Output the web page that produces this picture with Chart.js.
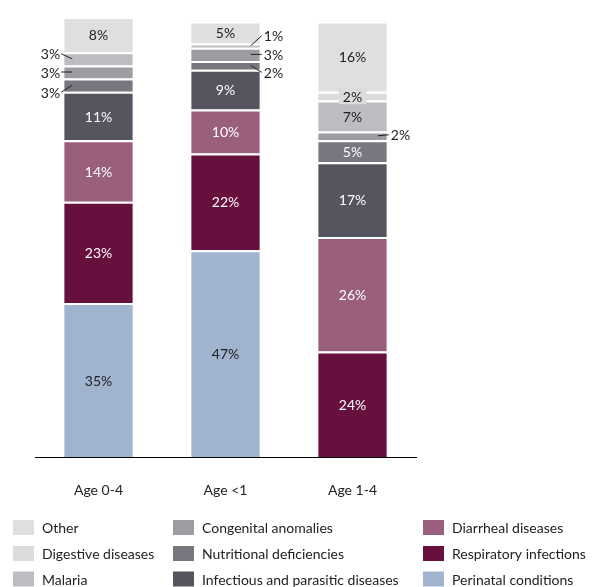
<!DOCTYPE html>
<html>
<head>
<meta charset="utf-8">
<script src="https://cdn.jsdelivr.net/npm/chart.js@4/dist/chart.umd.min.js"></script>
<style>
  html, body { margin: 0; padding: 0; background: #fff; }
  #wrap { width: 595px; height: 587px; position: relative; }
</style>
</head>
<body>
<div id="wrap"><canvas id="c" width="595" height="587"></canvas></div>
<script>
// Age groups along the x axis
const categories = ['Age 0-4', 'Age <1', 'Age 1-4'];

// Share of deaths by cause (%), stacked from the bottom up
const perinatal   = [35, 47, 0];
const respiratory = [23, 22, 24];
const diarrheal   = [14, 10, 26];
const infectious  = [11, 9, 17];
const nutritional = [3, 2, 5];
const congenital  = [3, 3, 2];
const malaria     = [3, 1, 7];
const digestive   = [0, 0, 2];
const other       = [8, 5, 16];

const FONT = 'Lato, "Open Sans", sans-serif';

// series: name, values, fill colour, in-bar label colour
const series = [
  { name: 'Perinatal conditions',             data: perinatal,   color: '#a0b4cf', text: '#222' },
  { name: 'Respiratory infections',           data: respiratory, color: '#67103e', text: '#fff' },
  { name: 'Diarrheal diseases',               data: diarrheal,   color: '#9b5f7e', text: '#fff' },
  { name: 'Infectious and parasitic diseases',data: infectious,  color: '#55555f', text: '#fff' },
  { name: 'Nutritional deficiencies',         data: nutritional, color: '#77777f', text: '#fff' },
  { name: 'Congenital anomalies',             data: congenital,  color: '#9c9ca1', text: '#fff' },
  { name: 'Malaria',                          data: malaria,     color: '#bdbdc1', text: '#222' },
  { name: 'Digestive diseases',               data: digestive,   color: '#dcdcde', text: '#222' },
  { name: 'Other',                            data: other,       color: '#dfdfe1', text: '#222' }
];

// legend layout: column-major, three rows
const legendOrder = [
  ['Other', 'Digestive diseases', 'Malaria'],
  ['Congenital anomalies', 'Nutritional deficiencies', 'Infectious and parasitic diseases'],
  ['Diarrheal diseases', 'Respiratory infections', 'Perinatal conditions']
];

// small segments labelled outside the bar with a leader line
// key: "seriesName|categoryIndex" -> side and vertical shift of the label
const callouts = {
  'Nutritional deficiencies|0': { side: 'left',  dy: 8 },
  'Congenital anomalies|0':     { side: 'left',  dy: 1 },
  'Malaria|0':                  { side: 'left',  dy: -4 },
  'Nutritional deficiencies|1': { side: 'right', dy: 8 },
  'Congenital anomalies|1':     { side: 'right', dy: 1 },
  'Malaria|1':                  { side: 'right', dy: -9 },
  'Congenital anomalies|2':     { side: 'right', dy: 0 }
};
// segments whose label sits on a small box of the segment colour
const boxed = { 'Digestive diseases|2': true };

const labelPlugin = {
  id: 'segmentLabels',
  afterDatasetsDraw(chart) {
    const ctx = chart.ctx;
    ctx.save();
    ctx.font = '14px ' + FONT;
    ctx.textBaseline = 'middle';
    chart.data.datasets.forEach((ds, di) => {
      const meta = chart.getDatasetMeta(di);
      const s = series[di];
      meta.data.forEach((bar, i) => {
        const v = ds.data[i];
        if (!v) return;
        const txt = v + '%';
        const cy = (bar.y + bar.base) / 2;
        const key = s.name + '|' + i;
        const half = bar.width / 2;
        if (callouts[key]) {
          const c = callouts[key];
          const ty = cy + c.dy;
          ctx.strokeStyle = '#222';
          ctx.lineWidth = 1;
          ctx.beginPath();
          if (c.side === 'left') {
            const bx = bar.x - half + 8;
            ctx.moveTo(bx, cy);
            ctx.lineTo(bar.x - half - 3, ty - 1);
            ctx.stroke();
            ctx.fillStyle = '#222';
            ctx.textAlign = 'right';
            ctx.fillText(txt, bar.x - half - 4, ty);
          } else {
            const bx = bar.x + half - 9;
            ctx.moveTo(bx, cy);
            ctx.lineTo(bar.x + half + 2, ty - 1);
            ctx.stroke();
            ctx.fillStyle = '#222';
            ctx.textAlign = 'left';
            ctx.fillText(txt, bar.x + half + 4, ty);
          }
          return;
        }
        ctx.textAlign = 'center';
        if (boxed[key]) {
          const w = ctx.measureText(txt).width + 8;
          ctx.fillStyle = s.color;
          ctx.fillRect(bar.x - w / 2, cy - 8, w, 16);
        }
        ctx.fillStyle = s.text;
        ctx.fillText(txt, bar.x, cy + 1);
      });
    });
    ctx.restore();
  }
};

const legendPlugin = {
  id: 'gridLegend',
  afterDraw(chart) {
    const ctx = chart.ctx;
    const colX = [13, 173, 423];
    const rowY = [527.5, 553.5, 579];
    ctx.save();
    ctx.font = '14px ' + FONT;
    ctx.textBaseline = 'middle';
    ctx.textAlign = 'left';
    legendOrder.forEach((col, ci) => {
      col.forEach((name, ri) => {
        const s = series.find(x => x.name === name);
        ctx.fillStyle = s.color;
        ctx.fillRect(colX[ci], rowY[ri] - 7.5, 21, 15);
        ctx.fillStyle = '#222';
        ctx.fillText(name, colX[ci] + 29, rowY[ri] + 1);
      });
    });
    ctx.restore();
  }
};

new Chart(document.getElementById('c'), {
  type: 'bar',
  data: {
    labels: categories,
    datasets: series.map(s => ({
      label: s.name,
      data: s.data,
      backgroundColor: s.color,
      borderColor: '#ffffff',
      borderWidth: { top: 2, bottom: 0, left: 0, right: 0 },
      borderSkipped: false,
      barPercentage: 0.54,
      categoryPercentage: 1.0
    }))
  },
  options: {
    responsive: false,
    animation: false,
    layout: { padding: { left: 35, right: 179, top: 17, bottom: 0 } },
    plugins: { legend: { display: false }, tooltip: { enabled: false } },
    scales: {
      x: {
        stacked: true,
        grid: { display: false },
        border: { display: true, color: '#000', width: 1 },
        ticks: { color: '#222', font: { family: FONT, size: 14 }, padding: 17 },
        afterFit(scale) { scale.height = 130; }
      },
      y: {
        stacked: true,
        display: false,
        min: 0,
        max: 100
      }
    }
  },
  plugins: [labelPlugin, legendPlugin]
});
</script>
</body>
</html>
